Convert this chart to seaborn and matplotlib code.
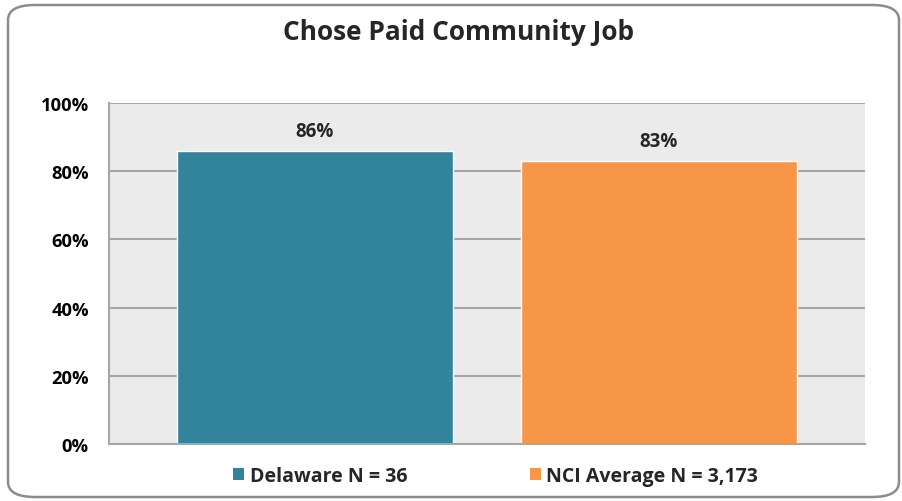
import numpy as np
import matplotlib
matplotlib.use("Agg")
import matplotlib.pyplot as plt
from matplotlib.patches import FancyBboxPatch, Patch
from matplotlib.ticker import FuncFormatter
import seaborn as sns
import pandas as pd

# data
title = "Chose Paid Community Job"
series = ["Delaware N = 36", "NCI Average N = 3,173"]
values = [86, 83]
colors = ["#31849B", "#F79646"]
yticks = [0, 20, 40, 60, 80, 100]

df = pd.DataFrame({"group": [""] * len(series), "series": series, "value": values})

sns.set_theme(style="white")
plt.rcParams["font.family"] = ["Open Sans", "DejaVu Sans"]

fig = plt.figure(figsize=(9.03, 5.02), dpi=100)
ax = fig.add_axes([109 / 903, 57 / 502, 756 / 903, 341 / 502])

sns.barplot(data=df, x="group", y="value", hue="series", palette=colors,
            width=0.91, gap=0.2, ax=ax, legend=False, saturation=1)

ax.set_facecolor("#EBEBEB")
ax.set_ylim(0, 100)
ax.set_xlim(-0.5, 0.5)
ax.set_yticks(yticks)
ax.yaxis.set_major_formatter(FuncFormatter(lambda v, _: f"{v:.0f}%"))
ax.yaxis.grid(True, color="#A6A6A6", linewidth=1.5)
ax.set_axisbelow(True)
ax.set_xlabel("")
ax.set_ylabel("")
ax.set_xticks([])
for side in ["top", "right"]:
    ax.spines[side].set_visible(False)
for side in ["left", "bottom"]:
    ax.spines[side].set_color("#A6A6A6")
    ax.spines[side].set_linewidth(1.5)
ax.tick_params(axis="y", length=4.5, width=1.2, color="#A6A6A6", pad=10,
               labelsize=13.2, labelcolor="black")
for lab in ax.get_yticklabels():
    lab.set_fontweight("bold")

# value labels
for bar, v in zip(ax.patches, values):
    ax.text(bar.get_x() + bar.get_width() / 2, v + 3.0, f"{v}%",
            ha="center", va="bottom", fontsize=13.5, fontweight="bold")

fig.text(0.508, 1 - 33 / 502, title, ha="center", va="center",
         fontsize=18.9, fontweight="bold")

handles = [Patch(facecolor=c, edgecolor="none") for c in colors]
fig.legend(handles, series, loc="center", bbox_to_anchor=(0.549, 1 - 477 / 502),
           ncol=2, frameon=False, prop={"weight": "bold", "size": 14},
           handlelength=0.55, handleheight=0.55, handletextpad=0.3, columnspacing=6.3)

# rounded outer border
fig.patches.append(FancyBboxPatch((8 / 903, 4 / 502), 891 / 903, 492 / 502,
                                  boxstyle="round,pad=0,rounding_size=0.03",
                                  transform=fig.transFigure, fill=False,
                                  edgecolor="#8C8C8C", linewidth=1.8))

fig.savefig("out.png", dpi=100)
